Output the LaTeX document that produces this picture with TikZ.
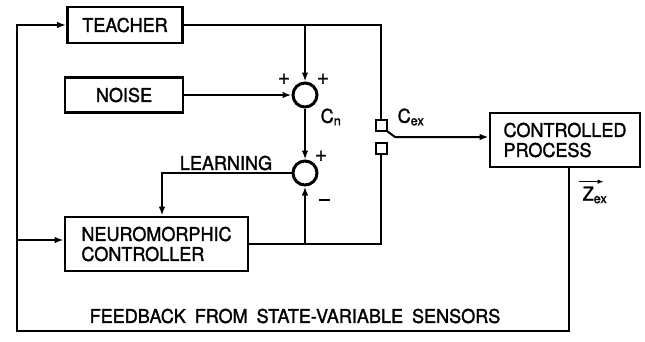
\documentclass[tikz,border=0pt]{standalone}
\usepackage{fontspec}
\setmainfont{TeX Gyre Heros}[FakeBold=1.5,FakeStretch=0.95]
\usetikzlibrary{arrows.meta}
\begin{document}
\begin{tikzpicture}[x=1pt,y=-1pt,line width=2pt,
  blk/.style={draw,line width=2.6pt,inner sep=0pt,align=left,font=\fontsize{19}{20}\selectfont},
  sumpt/.style={circle,draw,line width=3pt,minimum size=24pt,inner sep=0pt},
  swbox/.style={draw,line width=2pt,minimum size=11pt,inner sep=0pt},
  arr/.style={-{Latex[length=9pt,width=6.5pt]}},
  lbl/.style={inner sep=0pt,font=\fontsize{19}{20}\selectfont},
  sgn/.style={inner sep=0pt,font=\fontsize{22}{22}\selectfont}]
\useasboundingbox (0,0) rectangle (645,341);
% blocks
\node[blk,minimum width=115pt,minimum height=36pt] (teacher) at (125,25) {TEACHER};
\node[blk,minimum width=118pt,minimum height=35pt] (noise) at (124,95) {NOISE};
\node[blk,minimum width=183pt,minimum height=54pt] (neuro) at (156.5,244) {NEUROMORPHIC\\CONTROLLER};
\node[blk,minimum width=150pt,minimum height=54pt] (cp) at (565,140) {CONTROLLED\\PROCESS};
\node[sumpt] (s1) at (305,95) {};
\node[sumpt] (s2) at (305,173) {};
\node[swbox] (sw1) at (381,125) {};
\node[swbox] (sw2) at (381,148) {};
% junctions
\coordinate (tj) at (305,25);
\coordinate (tr) at (381,25);
\coordinate (lj) at (162,173);
\coordinate (nj) at (305,244);
\coordinate (nr) at (381,244);
\coordinate (arm) at (395,137);
\coordinate (fb0) at (569,167);
\coordinate (fb1) at (569,331);
\coordinate (fb2) at (17,331);
\coordinate (fb3) at (17,25);
\coordinate (fb4) at (17,240);
% connectors
\draw (teacher.east) -- (tr) -- (sw1.north);
\draw[arr] (tj) -- (s1.north);
\draw[arr] (noise.east) -- (s1.west);
\draw[arr] (s1.south) -- (s2.north);
\draw[arr] (s2.west) -- (lj) -- (lj |- neuro.north);
\draw (neuro.east) -- (nr) -- (sw2.south);
\draw[arr] (nj) -- (s2.south);
\draw[arr] (sw1.south east) -- (arm) -- (arm -| cp.west);
\draw[arr] (fb0) -- (fb1) -- (fb2) -- (fb3) -- (teacher.west);
\draw[arr] (fb4) -- (fb4 -| neuro.west);
% labels
\node[sgn] (p1) at (284,79) {+};
\node[sgn] (p2) at (323,79) {+};
\node[sgn] (p3) at (321,156) {+};
\node[inner sep=0pt] (m1) at (324,200) {\rule{11pt}{2.4pt}};
\node[lbl] (cn) at (331,117) {C\textsubscript{n}};
\node[lbl] (cex) at (411,117) {C\textsubscript{ex}};
\node[lbl] (learn) at (226,163) {LEARNING};
\node[lbl] (z) at (595,195) {Z\textsubscript{ex}};
\draw[-{Latex[length=6pt,width=4.5pt]},line width=1.4pt] ([xshift=-3pt,yshift=4pt]z.north west) -- ++(25,0);
\node[lbl] (fbtxt) at (295,316) {\spaceskip=9pt FEEDBACK FROM STATE-VARIABLE SENSORS};
\end{tikzpicture}
\end{document}
